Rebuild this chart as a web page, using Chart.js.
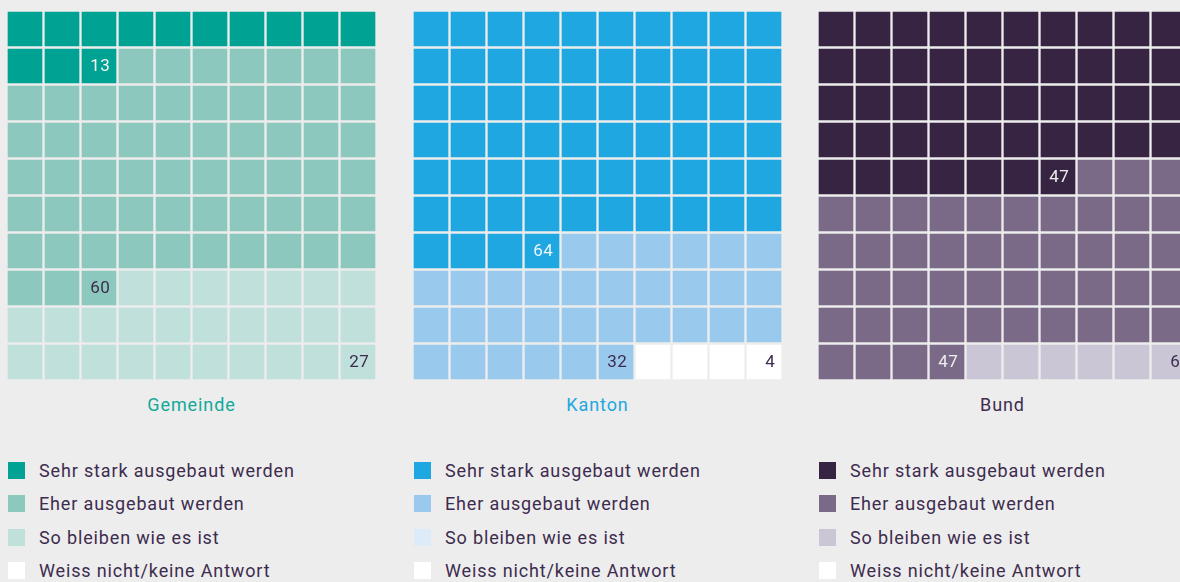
<!DOCTYPE html>
<html lang="de">
<head>
<meta charset="utf-8">
<script src="https://cdn.jsdelivr.net/npm/chart.js@4"></script>
<style>
  html, body { margin: 0; padding: 0; background: #ededed; overflow: hidden; }
  body { width: 1180px; height: 582px; position: relative; font-family: Roboto, "Noto Sans", sans-serif; }
  canvas.waffle { position: absolute; top: 0; }
  .titel { position: absolute; top: 394px; width: 367px; text-align: center; font-size: 18px; letter-spacing: 0.9px; }
  .legende { position: absolute; top: 462px; color: #3d2c4e; font-size: 18px; letter-spacing: 0.85px; }
  .legende div { position: relative; height: 33.4px; padding-left: 31px; line-height: 18px; white-space: nowrap; }
  .legende span { position: absolute; left: 0; top: 0; width: 17px; height: 17px; }
</style>
</head>
<body>
<canvas id="c0" class="waffle" width="400" height="390" style="left:0px"></canvas>
<canvas id="c1" class="waffle" width="400" height="390" style="left:406px"></canvas>
<canvas id="c2" class="waffle" width="400" height="390" style="left:811px"></canvas>
<script>
const categorias = [
  'Sehr stark ausgebaut werden',
  'Eher ausgebaut werden',
  'So bleiben wie es ist',
  'Weiss nicht/keine Antwort'
];
const grupos = ['Gemeinde', 'Kanton', 'Bund'];
const valoresGemeinde = [13, 60, 27, 0];
const valoresKanton = [64, 32, 0, 4];
const valoresBund = [47, 47, 6, 0];
const linhas = [0, 1, 2, 3, 4, 5, 6, 7, 8, 9];
const colunas = ['1', '2', '3', '4', '5', '6', '7', '8', '9', '10'];

const fundo = '#ededed';
const textoEscuro = '#3d2c4e';
const estilos = [
  { cores: ['#00a294', '#8cc8bd', '#c0e0dc', '#ffffff'], titulo: '#12a99b', rotulo: ['#f4f4f4', textoEscuro, textoEscuro, textoEscuro] },
  { cores: ['#1ea7e1', '#99c9ec', '#dcebf7', '#ffffff'], titulo: '#1ea7e1', rotulo: ['#eef6fb', textoEscuro, textoEscuro, textoEscuro] },
  { cores: ['#372443', '#7a6a87', '#cbc6d6', '#ffffff'], titulo: textoEscuro, rotulo: ['#eeeeee', '#eeeeee', textoEscuro, textoEscuro] }
];
const esquerdaGrade = [8, 414, 819];

function categoriaDaCelula(valores, indice) {
  let soma = 0;
  for (let k = 0; k < valores.length; k++) {
    soma += valores[k];
    if (indice < soma) return k;
  }
  return valores.length - 1;
}

// rotulos com o valor na ultima celula de cada categoria
const rotulosPlugin = {
  id: 'rotulos',
  afterDatasetsDraw(chart, args, opts) {
    const ctx = chart.ctx;
    let soma = 0;
    ctx.save();
    ctx.font = '17px Roboto, "Noto Sans", sans-serif';
    ctx.letterSpacing = '0.6px';
    ctx.textAlign = 'right';
    ctx.textBaseline = 'middle';
    opts.valores.forEach((v, k) => {
      soma += v;
      if (!v) return;
      const idx = soma - 1;
      const el = chart.getDatasetMeta(Math.floor(idx / 10)).data[idx % 10];
      ctx.fillStyle = opts.cores[k];
      ctx.fillText(String(v), el.x + el.width / 2 - 7, (el.y + el.base) / 2 + 1);
    });
    ctx.restore();
  }
};

[valoresGemeinde, valoresKanton, valoresBund].forEach((valores, g) => {
  const est = estilos[g];
  const datasets = linhas.map(r => ({
    data: colunas.map(() => 1),
    backgroundColor: colunas.map((c, col) => est.cores[categoriaDaCelula(valores, r * 10 + col)]),
    borderColor: fundo,
    borderWidth: 1.5,
    borderSkipped: false,
    barPercentage: 1,
    categoryPercentage: 1
  }));

  new Chart(document.getElementById('c' + g), {
    type: 'bar',
    data: { labels: colunas, datasets: datasets },
    plugins: [rotulosPlugin],
    options: {
      responsive: false,
      animation: false,
      devicePixelRatio: 1,
      layout: { padding: { left: 6.5, top: 10.5, right: 23.5, bottom: 9.5 } },
      scales: {
        x: { stacked: true, display: false },
        y: { stacked: true, display: false, min: 0, max: 10, reverse: true }
      },
      plugins: {
        legend: { display: false },
        tooltip: { enabled: false },
        rotulos: { valores: valores, cores: est.rotulo }
      }
    }
  });

  const titulo = document.createElement('div');
  titulo.className = 'titel';
  titulo.style.left = esquerdaGrade[g] + 'px';
  titulo.style.color = est.titulo;
  titulo.textContent = grupos[g];
  document.body.appendChild(titulo);

  const legenda = document.createElement('div');
  legenda.className = 'legende';
  legenda.style.left = esquerdaGrade[g] + 'px';
  categorias.forEach((nome, k) => {
    const linha = document.createElement('div');
    const quadro = document.createElement('span');
    quadro.style.background = est.cores[k];
    linha.appendChild(quadro);
    linha.appendChild(document.createTextNode(nome));
    legenda.appendChild(linha);
  });
  document.body.appendChild(legenda);
});
</script>
</body>
</html>
